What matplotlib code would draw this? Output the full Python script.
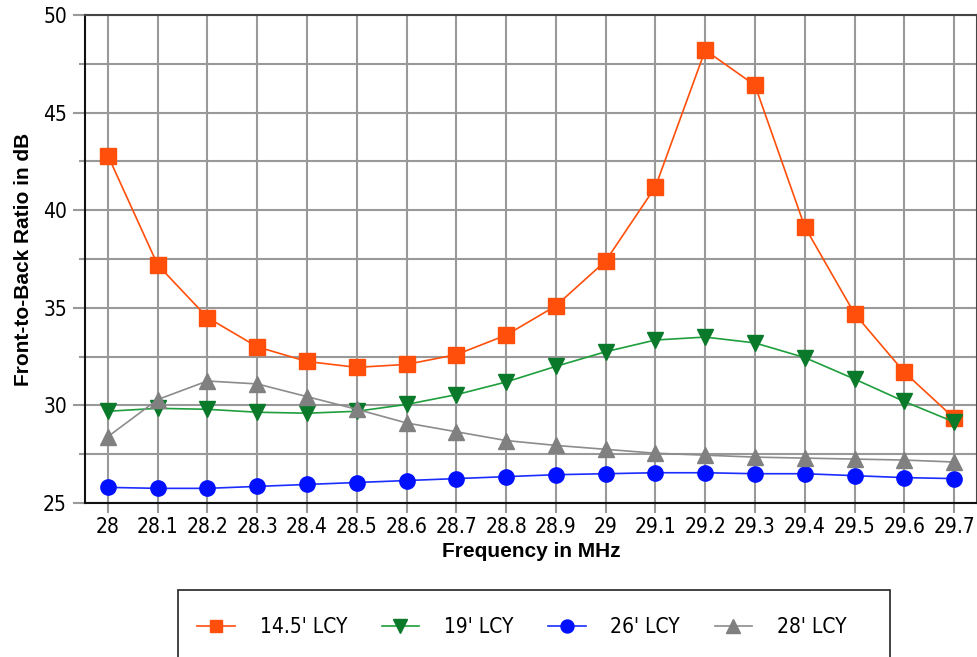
import matplotlib
matplotlib.use("Agg")
import matplotlib.pyplot as plt
from matplotlib.ticker import MultipleLocator
from matplotlib.patches import Rectangle
from matplotlib.font_manager import FontProperties

plt.rcParams['font.family'] = ['Liberation Sans', 'DejaVu Sans']
narrow_fp = FontProperties(family='DejaVu Sans', stretch='condensed', size=15)

freqs = ["28", "28.1", "28.2", "28.3", "28.4", "28.5", "28.6", "28.7", "28.8",
         "28.9", "29", "29.1", "29.2", "29.3", "29.4", "29.5", "29.6", "29.7"]

lcy_14_5 = [42.8, 37.2, 34.5, 33.0, 32.25, 31.95, 32.1, 32.6, 33.6,
            35.1, 37.4, 41.2, 48.2, 46.4, 39.15, 34.7, 31.7, 29.35]
lcy_19 = [29.7, 29.85, 29.8, 29.65, 29.6, 29.7, 30.05, 30.55, 31.2,
          32.0, 32.75, 33.35, 33.5, 33.2, 32.45, 31.35, 30.2, 29.15]
lcy_26 = [25.8, 25.75, 25.75, 25.85, 25.95, 26.05, 26.15, 26.25, 26.35,
          26.45, 26.5, 26.55, 26.55, 26.5, 26.5, 26.4, 26.3, 26.25]
lcy_28 = [28.4, 30.3, 31.25, 31.1, 30.45, 29.8, 29.1, 28.65, 28.2,
          27.95, 27.75, 27.55, 27.45, 27.35, 27.3, 27.25, 27.2, 27.1]

series = [
    ("14.5' LCY", lcy_14_5, '#FF4F0A', '#FF4F0A', 's', 11),
    ("19' LCY", lcy_19, '#1E9E3C', '#0A7A2A', 'v', 12),
    ("26' LCY", lcy_26, '#1A2CFF', '#0010FF', 'o', 11),
    ("28' LCY", lcy_28, '#8C8C8C', '#808080', '^', 12),
]

fig = plt.figure(figsize=(9.78, 6.57), dpi=100)
ax = fig.add_axes([85/978, 1 - 503/657, (977-85)/978, (503-15)/657])

x = list(range(len(freqs)))
handles = []
for name, vals, lc, mc, mk, ms in series:
    h, = ax.plot(x, vals, color=lc, linewidth=1.2, marker=mk, markersize=ms,
                 markerfacecolor=mc, markeredgecolor=mc, label=name, zorder=3)
    handles.append(h)

ax.set_xlim(-0.46, len(freqs) - 1 + 0.46)
ax.set_ylim(25, 50)
ax.set_xticks(x)
ax.set_xticklabels(freqs)
ax.yaxis.set_major_locator(MultipleLocator(5))
ax.yaxis.set_minor_locator(MultipleLocator(2.5))

ax.grid(True, which='both', color='#999999', linewidth=1.5, zorder=1)
ax.set_axisbelow(True)
ax.tick_params(axis='x', which='major', length=7, width=1.5, color='#999999', pad=3)
ax.tick_params(axis='y', which='major', length=9, width=1.5, color='#999999', pad=4)
ax.tick_params(axis='y', which='minor', length=4, width=1.5, color='#999999')
for lab in ax.get_xticklabels() + ax.get_yticklabels():
    lab.set_fontproperties(narrow_fp)

for side in ['left', 'bottom']:
    ax.spines[side].set_color('#111111')
    ax.spines[side].set_linewidth(1.5)
for side in ['top', 'right']:
    ax.spines[side].set_color('#444444')
    ax.spines[side].set_linewidth(1.5)

ax.set_xlabel('Frequency in MHz', fontsize=15, fontweight='bold', labelpad=4)
ax.set_ylabel('Front-to-Back Ratio in dB', fontsize=15, fontweight='bold', labelpad=7)

fig.patches.append(Rectangle((178/978, -0.01), (890-178)/978, 0.01 + (657-590)/657,
                             transform=fig.transFigure, fill=False,
                             edgecolor='#222222', linewidth=1.2))
leg = fig.legend(handles=handles, loc='center', ncol=4,
                 bbox_to_anchor=(522/978, 1 - 627/657), frameon=False,
                 prop=narrow_fp, handlelength=1.8, columnspacing=1.65,
                 handletextpad=1.2, markerscale=0.85)

fig.savefig('out.png', dpi=100)
